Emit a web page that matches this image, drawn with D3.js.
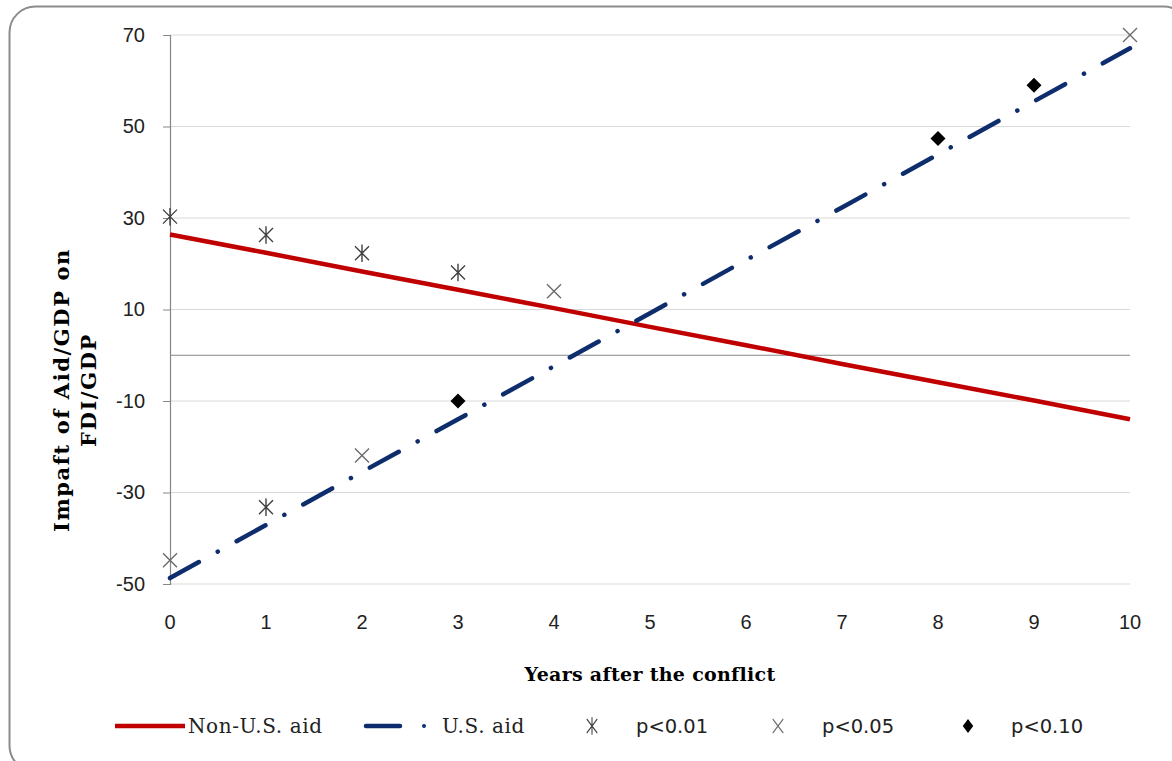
<!DOCTYPE html>
<html>
<head>
<meta charset="utf-8">
<script src="https://cdn.jsdelivr.net/npm/d3@7"></script>
<style>
  body { margin: 0; background: #fff; }
  svg { display: block; }
</style>
</head>
<body>
<div id="chart"></div>
<script>
let width = 1172;
let height = 761;

let years = [0, 1, 2, 3, 4, 5, 6, 7, 8, 9, 10]
let nonUSAid = [26.4, 22.4, 18.3, 14.3, 10.3, 6.2, 2.2, -1.9, -5.9, -9.9, -14.0]
let usAid = [-48.7, -37.1, -25.5, -14.0, -2.4, 9.2, 20.8, 32.3, 43.9, 55.5, 67.1]

// significance markers
let p01 = [{x: 0, y: 30.3}, {x: 1, y: 26.3}, {x: 2, y: 22.3}, {x: 3, y: 18.1}, {x: 1, y: -33.2}]
let p05 = [{x: 0, y: -44.8}, {x: 2, y: -21.9}, {x: 4, y: 14.0}, {x: 10, y: 70}]
let p10 = [{x: 3, y: -10.0}, {x: 8, y: 47.4}, {x: 9, y: 59.0}]

let yTicks = [-50, -30, -10, 10, 30, 50, 70]
let legendLabels = ["Non-U.S. aid", "U.S. aid", "p<0.01", "p<0.05", "p<0.10"]

let margin = {top: 35, right: 42, bottom: 177, left: 170}

let svg = d3.select('#chart')
            .append('svg')
            .attr('width', width)
            .attr('height', height)

// outer rounded frame
svg.append('rect')
    .attr('x', 9.5).attr('y', 6.5)
    .attr('width', 1180).attr('height', 765)
    .attr('rx', 26)
    .attr('fill', 'none')
    .attr('stroke', '#8c8c8c')
    .attr('stroke-width', 2)

let x = d3.scaleLinear()
        .domain([0, 10])
        .range([margin.left, width - margin.right])

let y = d3.scaleLinear()
        .domain([-50, 70])
        .range([height - margin.bottom, margin.top])

// gridlines
svg.append('g')
    .selectAll('line')
    .data(yTicks)
    .enter()
    .append('line')
        .attr('x1', x(0)).attr('x2', x(10))
        .attr('y1', d => y(d)).attr('y2', d => y(d))
        .attr('stroke', '#d9d9d9')
        .attr('stroke-width', 1.2)

// y axis
let yAxis = d3.axisLeft(y)
            .tickValues(yTicks)
            .tickFormat(d => String(d))
            .tickSize(7)
            .tickPadding(18)

let gy = svg.append('g')
    .attr('transform', "translate(" + x(0) + ",0)")
    .call(yAxis)
gy.select('.domain').attr('stroke', '#868686').attr('stroke-width', 1.2)
gy.selectAll('.tick line').attr('stroke', '#868686')
gy.selectAll('text')
    .attr('font-family', 'Liberation Sans, Arial, sans-serif')
    .attr('font-size', 20)
    .attr('fill', '#222')

// zero line
svg.append('line')
    .attr('x1', x(0)).attr('x2', x(10))
    .attr('y1', y(0)).attr('y2', y(0))
    .attr('stroke', '#868686')
    .attr('stroke-width', 1.2)

// x labels at the bottom
svg.append('g')
    .selectAll('text')
    .data(years)
    .enter()
    .append('text')
        .attr('x', d => x(d))
        .attr('y', y(-50) + 45)
        .attr('text-anchor', 'middle')
        .attr('font-family', 'Liberation Sans, Arial, sans-serif')
        .attr('font-size', 20)
        .attr('fill', '#222')
        .text(d => d)

// axis titles
svg.append('text')
    .attr('x', 650)
    .attr('y', 681)
    .attr('text-anchor', 'middle')
    .attr('font-family', 'DejaVu Serif, serif')
    .attr('font-weight', 'bold')
    .attr('font-size', 19)
    .attr('letter-spacing', 0.3)
    .text('Years after the conflict')

let ytitle = svg.append('text')
    .attr('transform', 'translate(0,390) rotate(-90)')
    .attr('text-anchor', 'middle')
    .attr('font-family', 'DejaVu Serif, serif')
    .attr('font-weight', 'bold')
    .attr('font-size', 21)
    .attr('letter-spacing', 1.6)
ytitle.append('tspan').attr('x', 0).attr('y', 69).text('Impaft of  Aid/GDP on')
ytitle.append('tspan').attr('x', 0).attr('y', 96).text('FDI/GDP')

// lines
let line = d3.line()
    .x((d, i) => x(years[i]))
    .y(d => y(d))

svg.append('path')
    .datum(nonUSAid)
    .attr('d', line)
    .attr('fill', 'none')
    .attr('stroke', '#c00000')
    .attr('stroke-width', 4.5)

svg.append('path')
    .datum(usAid)
    .attr('d', line)
    .attr('fill', 'none')
    .attr('stroke', '#0e2d6d')
    .attr('stroke-width', 4.5)
    .attr('stroke-linecap', 'round')
    .attr('stroke-dasharray', '33 21.5 0.1 21.5')

// marker shapes
function asterisk(g, s) {
    g.append('path')
        .attr('d', `M${-s},${-s}L${s},${s}M${-s},${s}L${s},${-s}M0,${-s * 1.25}L0,${s * 1.25}`)
        .attr('stroke', '#404040')
        .attr('stroke-width', 1.4)
        .attr('fill', 'none')
}
function cross(g, s) {
    g.append('path')
        .attr('d', `M${-s},${-s}L${s},${s}M${-s},${s}L${s},${-s}`)
        .attr('stroke', '#6a6a6a')
        .attr('stroke-width', 1.4)
        .attr('fill', 'none')
}
function diamond(g, s) {
    g.append('path')
        .attr('d', `M0,${-s}L${s},0L0,${s}L${-s},0Z`)
        .attr('fill', '#000')
}

svg.append('g').selectAll('g').data(p01).enter().append('g')
    .attr('transform', d => "translate(" + x(d.x) + "," + y(d.y) + ")")
    .each(function() { asterisk(d3.select(this), 7) })

svg.append('g').selectAll('g').data(p05).enter().append('g')
    .attr('transform', d => "translate(" + x(d.x) + "," + y(d.y) + ")")
    .each(function() { cross(d3.select(this), 7) })

svg.append('g').selectAll('g').data(p10).enter().append('g')
    .attr('transform', d => "translate(" + x(d.x) + "," + y(d.y) + ")")
    .each(function() { diamond(d3.select(this), 7.5) })

// legend
let ly = 726
let leg = svg.append('g')

leg.append('line')
    .attr('x1', 115).attr('x2', 185).attr('y1', ly).attr('y2', ly)
    .attr('stroke', '#c00000').attr('stroke-width', 4.5)

leg.append('line')
    .attr('x1', 366).attr('x2', 400).attr('y1', ly).attr('y2', ly)
    .attr('stroke', '#0e2d6d').attr('stroke-width', 4.5).attr('stroke-linecap', 'round')
leg.append('circle')
    .attr('cx', 424).attr('cy', ly).attr('r', 2)
    .attr('fill', '#0e2d6d')

asterisk(leg.append('g').attr('transform', "translate(592," + ly + ") scale(0.75,1)"), 7)
cross(leg.append('g').attr('transform', "translate(778," + ly + ") scale(0.75,1)"), 7)
diamond(leg.append('g').attr('transform', "translate(968," + ly + ") scale(0.75,1)"), 7)

let legX = [188, 442, 636, 822, 1011]
leg.selectAll('text')
    .data(legendLabels)
    .enter()
    .append('text')
        .attr('x', (d, i) => legX[i])
        .attr('y', ly + 7)
        .attr('font-family', (d, i) => i < 2 ? 'DejaVu Serif, serif' : 'DejaVu Sans, sans-serif')
        .attr('font-size', (d, i) => i < 2 ? 20 : 19.5)
        .attr('letter-spacing', (d, i) => i < 2 ? 0.6 : 0)
        .attr('fill', '#222')
        .text(d => d)
</script>
</body>
</html>
